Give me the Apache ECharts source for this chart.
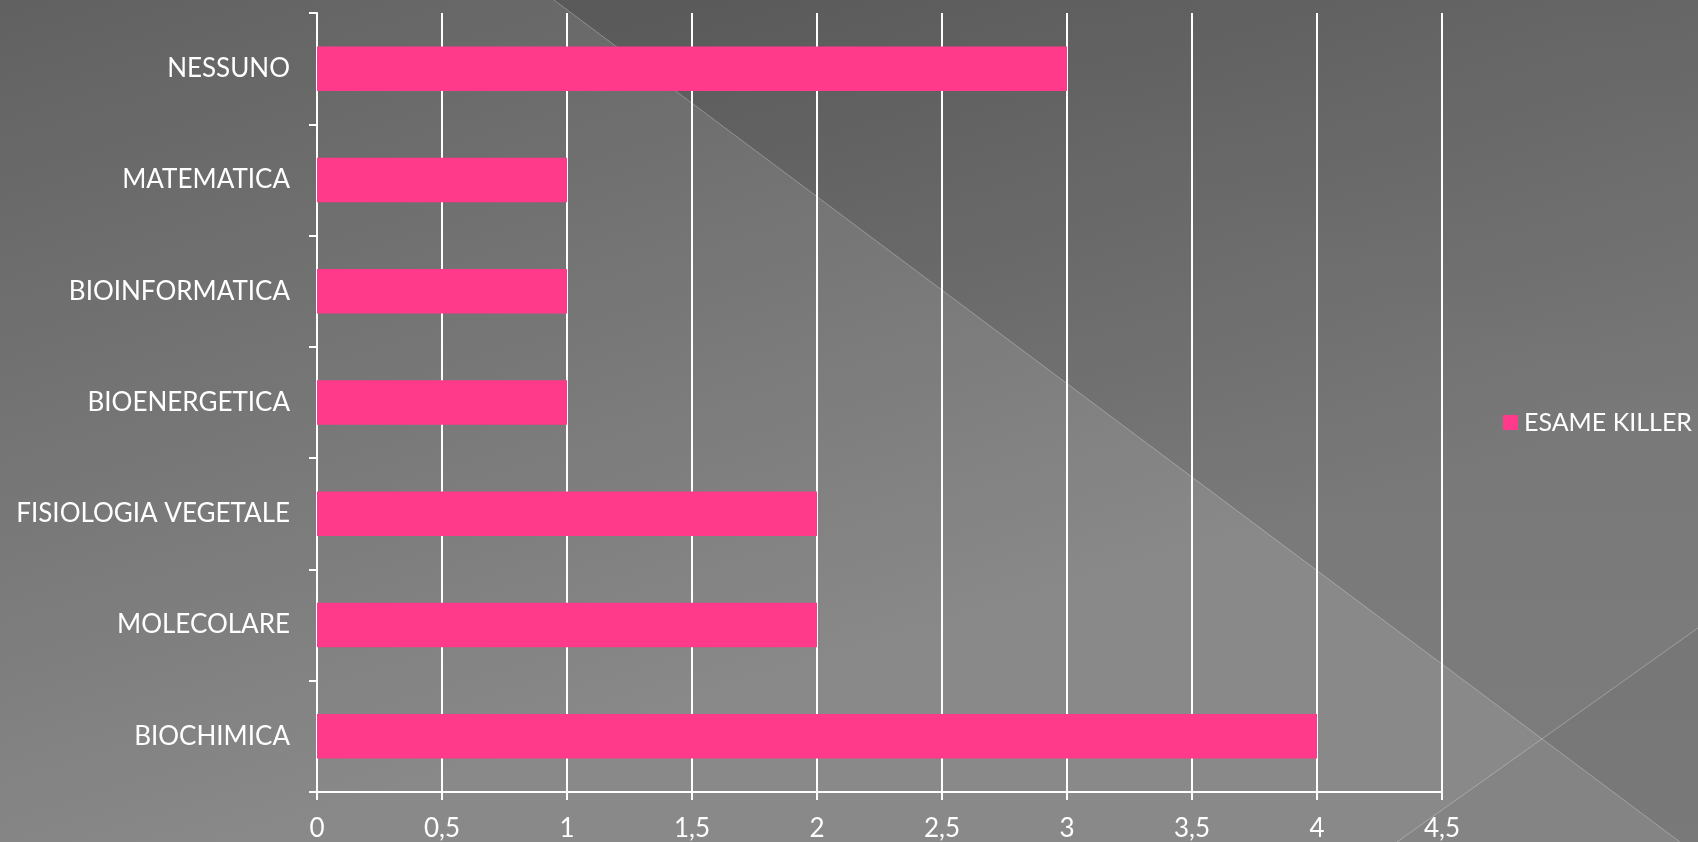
<!DOCTYPE html>
<html>
<head>
<meta charset="utf-8">
<script src="https://cdn.jsdelivr.net/npm/echarts@6/dist/echarts.min.js"></script>
<style>
html,body{margin:0;padding:0;background:#6e6e6e;}
#chart{width:1698px;height:842px;}
</style>
</head>
<body>
<div id="chart"></div>
<script>
const categories = ['BIOCHIMICA','MOLECOLARE','FISIOLOGIA VEGETALE','BIOENERGETICA','BIOINFORMATICA','MATEMATICA','NESSUNO'];
const esameKiller = [4, 2, 2, 1, 1, 1, 3];
const seriesName = 'ESAME KILLER';
const xMin = 0, xMax = 4.5, xStep = 0.5;

const FONT = 'Lato, "Open Sans", sans-serif';
const chart = echarts.init(document.getElementById('chart'), null, {renderer:'canvas'});
const W = 1698, H = 842;
chart.setOption({
  backgroundColor: 'transparent',
  animation: false,
  graphic: [
    { type:'rect', z:-10, silent:true, shape:{x:0,y:0,width:W,height:H},
      style:{fill:new echarts.graphic.LinearGradient(0,0,0.15,1,[{offset:0,color:'#616161'},{offset:1,color:'#898989'}])}},
    { type:'polygon', z:-9, silent:true, shape:{points:[[554,0],[W,0],[W,H],[1680,H]]},
      style:{fill:new echarts.graphic.LinearGradient(0,0,0,1,[{offset:0,color:'rgba(0,0,0,0.15)'},{offset:1,color:'rgba(0,0,0,0.09)'}])}},
    { type:'polygon', z:-9, silent:true, shape:{points:[[1397,H],[W,628],[W,H]]},
      style:{fill:'rgba(0,0,0,0.03)'}},
    { type:'line', z:-8, silent:true, shape:{x1:554,y1:0,x2:1680,y2:H},
      style:{stroke:'rgba(255,255,255,0.28)',lineWidth:1}},
    { type:'line', z:-8, silent:true, shape:{x1:1397,y1:H,x2:W,y2:628},
      style:{stroke:'rgba(255,255,255,0.28)',lineWidth:1}}
  ],
  legend: {
    show: true,
    orient: 'vertical',
    left: 1498, top: 405,
    itemWidth: 15, itemHeight: 15, itemGap: 6,
    icon: 'rect',
    textStyle: {color:'#ffffff', fontSize:25, fontFamily:FONT, padding:[0,0,0,1]},
    data: [seriesName]
  },
  grid: { left:317, right:256, top:13, bottom:49, containLabel:false },
  xAxis: {
    type:'value', min:xMin, max:xMax, interval:xStep,
    axisLine:{show:true, lineStyle:{color:'#ffffff', width:2}},
    axisTick:{show:true, length:8, lineStyle:{color:'#ffffff', width:2}},
    splitLine:{show:true, lineStyle:{color:'#ffffff', width:2}},
    axisLabel:{color:'#ffffff', fontSize:26, fontFamily:FONT, margin:24,
      formatter: v => String(v).replace('.', ',')}
  },
  yAxis: {
    type:'category', data:categories,
    axisLine:{show:true, lineStyle:{color:'#ffffff', width:2}},
    axisTick:{show:true, length:8, lineStyle:{color:'#ffffff', width:2}},
    axisLabel:{color:'#ffffff', fontSize:26, fontFamily:FONT, margin:27}
  },
  series: [{
    name: seriesName, type:'bar', data:esameKiller,
    barWidth:'40%',
    itemStyle:{color:'#ff3a8a'}
  }]
});
</script>
</body>
</html>
